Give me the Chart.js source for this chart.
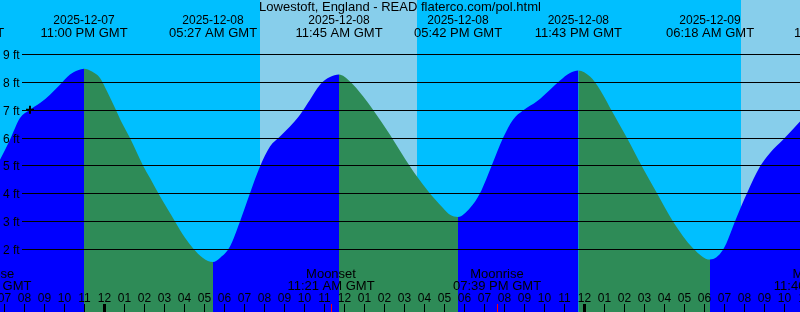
<!DOCTYPE html>
<html><head><meta charset="utf-8">
<script src="https://cdn.jsdelivr.net/npm/chart.js@4"></script>
<style>html,body{margin:0;padding:0;background:#00BFFF;overflow:hidden}canvas{display:block}</style>
</head><body>
<canvas id="c" width="800" height="312"></canvas>
<script>
// Hours after 2025-12-08 00:00 GMT
const tideHours = [-5.2,-4.7,-4.2,-3.7,-3.2,-2.7,-2.2,-1.7,-1.3,-1.0,
  -0.6,-0.2,0.15,0.55,0.9,1.3,1.95,2.3,2.8,3.2,3.55,4.05,4.45,4.95,5.45,
  5.8,6.3,6.8,7.3,7.8,8.3,8.8,9.3,9.8,10.3,10.8,11.3,11.75,
  12.3,12.95,13.45,14.3,15.3,16.15,16.95,17.3,17.7,
  18.3,18.8,19.4,19.95,20.45,20.95,21.65,22.3,22.8,23.3,23.72,
  24.3,24.8,25.45,26.15,26.9,27.65,28.45,29.45,30.3,
  30.95,31.65,32.15,32.8,33.3,33.95,34.8];
const tideFeet = [5.2,5.92,6.7,7.0,7.24,7.54,7.9,8.26,8.42,8.47,
  8.37,8.14,7.66,7.06,6.52,5.98,5.0,4.55,3.89,3.41,2.99,2.4,2.03,1.68,1.53,
  1.68,2.09,2.99,4.0,4.96,5.68,6.04,6.4,6.82,7.36,7.9,8.17,8.26,
  8.01,7.48,7.0,6.1,4.96,4.13,3.47,3.23,3.15,
  3.47,4.0,5.02,5.98,6.64,6.97,7.3,7.72,8.05,8.32,8.41,
  8.19,7.72,6.88,5.98,4.96,4.0,2.99,2.03,1.62,
  1.97,3.17,4.0,4.96,5.45,5.92,6.58];

const nowHour = [-3.7];
const nowFeet = [7.0];

const eventHours = [-7.2,-1.0,5.45,11.75,17.7,23.717,30.3,36.7];
const eventDates = ["2025-12-07","2025-12-07","2025-12-08","2025-12-08","2025-12-08","2025-12-08","2025-12-09","2025-12-09"];
const eventTimes = ["04:48 PM GMT","11:00 PM GMT","05:27 AM GMT","11:45 AM GMT","05:42 PM GMT","11:43 PM GMT","06:18 AM GMT","12:42 PM GMT"];

const moonHours = [-5.83,11.35,19.65,35.67];
const moonNames = ["Moonrise","Moonset","Moonrise","Moonset"];
const moonTimes = ["06:10 PM GMT","11:21 AM GMT","07:39 PM GMT","11:40 AM GMT"];

const dayStart = [7.8,31.85];
const dayEnd = [15.63,40];

const yTickValues = [2,3,4,5,6,7,8,9];
const yTickLabels = ["2 ft","3 ft","4 ft","5 ft","6 ft","7 ft","8 ft","9 ft"];

const hourTickFirst = -6;
const hourTickLabels = ["06","07","08","09","10","11","12","01","02","03","04","05","06","07","08","09","10","11",
  "12","01","02","03","04","05","06","07","08","09","10","11","12","01","02","03","04","05","06","07","08","09","10","11"];
const midnightHours = [0,24];

const titleText = "Lowestoft, England - READ flaterco.com/pol.html";

const NIGHT = "#00BFFF", DAY = "#87CEEB", RISE = "#0000FF", FALL = "#2E8B57";
const FONT = '"Liberation Sans", Arial, sans-serif';

const tidePlugin = {
  id: 'tide',
  beforeDatasetsDraw(chart) {
    const {ctx, scales: {x}} = chart;
    ctx.save();
    ctx.fillStyle = NIGHT;
    ctx.fillRect(0, 0, chart.width, chart.height);
    ctx.fillStyle = DAY;
    for (let i = 0; i < dayStart.length; i++) {
      const x0 = Math.round(x.getPixelForValue(dayStart[i]));
      const x1 = Math.round(x.getPixelForValue(dayEnd[i]));
      ctx.fillRect(x0, 0, x1 - x0, chart.height);
    }
    ctx.restore();
  },
  afterDatasetsDraw(chart) {
    const {ctx, scales: {x, y}} = chart;
    ctx.save();
    ctx.fillStyle = '#000';
    ctx.strokeStyle = '#000';
    ctx.lineWidth = 1;
    // grid lines and y labels
    ctx.font = '12px ' + FONT;
    ctx.textAlign = 'left';
    ctx.textBaseline = 'alphabetic';
    yTickValues.forEach((v, i) => {
      const py = Math.round(y.getPixelForValue(v));
      ctx.beginPath();
      ctx.moveTo(22, py + 0.5);
      ctx.lineTo(chart.width, py + 0.5);
      ctx.stroke();
      ctx.fillText(yTickLabels[i], 3, py + 5);
    });
    // title
    ctx.textAlign = 'center';
    ctx.font = '13px ' + FONT;
    ctx.fillText(titleText, 400, 11);
    // tide event labels
    eventHours.forEach((h, i) => {
      const px = x.getPixelForValue(h);
      ctx.font = '12px ' + FONT;
      ctx.fillText(eventDates[i], px, 24);
      ctx.font = '13px ' + FONT;
      ctx.fillText(eventTimes[i], px, 37);
    });
    // hour ticks and labels
    ctx.font = '12px ' + FONT;
    hourTickLabels.forEach((lab, i) => {
      const h = hourTickFirst + i;
      const px = Math.round(x.getPixelForValue(h));
      const thick = midnightHours.includes(h);
      ctx.fillRect(thick ? px - 1 : px, 304, thick ? 3 : 1, 8);
      ctx.fillText(lab, px + 0.5, 302);
    });
    // moon labels
    moonHours.forEach((h, i) => {
      const px = x.getPixelForValue(h);
      ctx.fillStyle = '#FF0000';
      ctx.fillRect(Math.round(px), 304, 1, 8);
      ctx.fillStyle = '#000';
      ctx.font = '13px ' + FONT;
      ctx.fillText(moonNames[i], px, 278);
      ctx.fillText(moonTimes[i], px, 290);
    });
    ctx.restore();
  }
};

new Chart(document.getElementById('c'), {
  type: 'line',
  data: {
    datasets: [{
      data: tideHours.map((h, i) => ({x: h, y: tideFeet[i]})),
      fill: 'start',
      backgroundColor: RISE,
      borderColor: 'rgba(0,0,0,0)',
      borderWidth: 0,
      pointRadius: 0,
      cubicInterpolationMode: 'monotone',
      clip: false,
      segment: {
        backgroundColor: c => (c.p1.parsed.y >= c.p0.parsed.y ? RISE : FALL)
      },
      order: 2
    }, {
      data: nowHour.map((h, i) => ({x: h, y: nowFeet[i]})),
      showLine: false,
      fill: false,
      pointStyle: 'cross',
      pointRadius: 4,
      pointBorderWidth: 2,
      borderColor: '#000',
      pointBorderColor: '#000',
      order: 1
    }]
  },
  options: {
    responsive: false,
    devicePixelRatio: 1,
    animation: false,
    events: [],
    layout: {padding: 0, autoPadding: false},
    scales: {
      x: {type: 'linear', min: -5.2, max: 34.8, display: false},
      y: {type: 'linear', min: -0.2617, max: 10.938, display: false}
    },
    plugins: {legend: {display: false}, tooltip: {enabled: false}}
  },
  plugins: [tidePlugin]
});
</script>
</body></html>
